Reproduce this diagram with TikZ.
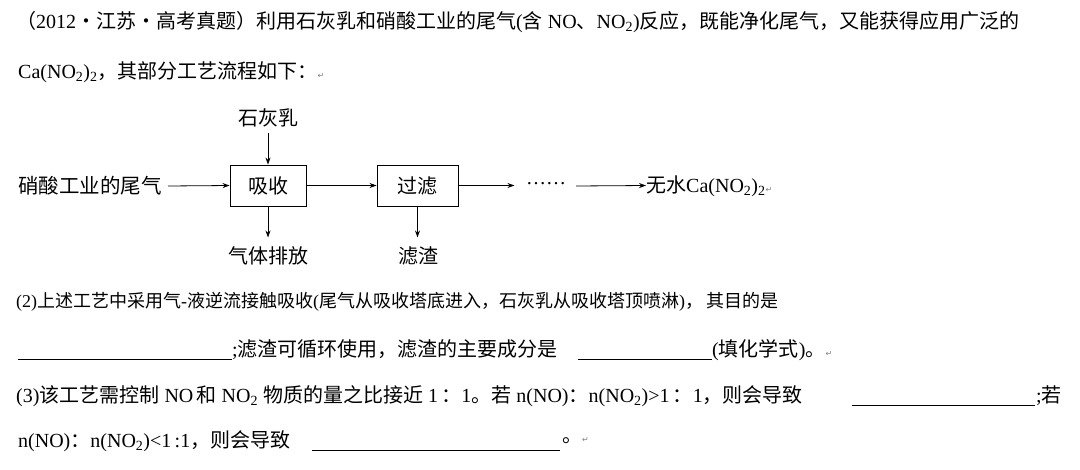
\documentclass[tikz,border=0pt]{standalone}
\usepackage{fontspec}
\setmainfont{Liberation Serif}
\newfontfamily\cjk{Noto Sans CJK SC}
\newfontfamily\symf{DejaVu Sans}
\newcommand\zh[1]{{\cjk #1}}
\newcommand\pmark{{\symf\color{gray}\fontsize{8}{8}\selectfont ↵}}
\usetikzlibrary{arrows.meta}
\begin{document}
\begin{tikzpicture}[x=1pt,y=-1pt,
  every node/.style={inner sep=0pt,font=\fontsize{20}{24}\selectfont},
  txt/.style={anchor=west},
  boxn/.style={draw,line width=0.9pt,minimum width=76pt,minimum height=41pt},
  arr/.style={-{Stealth[length=7pt,width=5pt]},line width=0.8pt}]
\useasboundingbox (0,0) rectangle (1080,469);
\node[txt] (l1) at (16,22) {\zh{（}2012\zh{·江苏·高考真题）利用石灰乳和硝酸工业的尾气}(\zh{含} NO\zh{、}NO\textsubscript{2})\zh{反应，既能净化尾气，又能获得应用广泛的}};
\node[txt] (l2) at (18,72) {Ca(NO\textsubscript{2})\textsubscript{2}\zh{，其部分工艺流程如下：}\pmark};
% diagram
\node (lime) at (268,118) {\zh{石灰乳}};
\node[boxn] (abs) at (268,185.5) {\zh{吸收}};
\node[boxn,minimum width=81pt] (filt) at (417.5,185.5) {\zh{过滤}};
\node[anchor=east,font=\fontsize{20.5}{24}\selectfont] (gas) at (162,186) {\zh{硝酸工业的尾气}};
\node (dots) at (546,184) {……};
\node[anchor=west] (prod) at (646,186) {\zh{无水}Ca(NO\textsubscript{2})\textsubscript{2}\pmark};
\node (vent) at (268,256) {\zh{气体排放}};
\node (res) at (418,256) {\zh{滤渣}};
\draw[arr] (lime.south) ++(0,6) -- (abs.north);
\draw[arr] (gas.east) ++(6,0) -- (abs.west);
\draw[arr] (abs.east) -- (filt.west);
\draw[arr] (filt.east) -- ++(56,0);
\draw[arr] (dots.east) ++(10,2) -- (prod.west |- abs.east);
\draw[arr] (abs.south) -- ++(0,31);
\draw[arr] (filt.south) -- ++(0,31);
% questions
\node[txt,font=\fontsize{18}{22}\selectfont] (q2) at (16,302) {(2)\zh{上述工艺中采用气}-\zh{液逆流接触吸收}(\zh{尾气从吸收塔底进入，石灰乳从吸收塔顶喷淋})\zh{，}\,\zh{其目的是}};
\coordinate (u1a) at (18,359); \coordinate (u1b) at (232,359);
\draw[line width=0.6pt] (u1a) -- (u1b);
\node[txt] (q2b) at (232,350) {;\zh{滤渣可循环使用，滤渣的主要成分是}};
\coordinate (u2a) at (578,359); \coordinate (u2b) at (712,359);
\draw[line width=0.6pt] (u2a) -- (u2b);
\node[txt] (q2c) at (712,350) {(\zh{填化学式})\zh{。}\pmark};
\node[txt] (q3) at (16,396) {(3)\zh{该工艺需控制} NO\,\zh{和} NO\textsubscript{2} \zh{物质的量之比接近} 1\,\zh{：}1\zh{。若} n(NO)\zh{：}n(NO\textsubscript{2})>1\,\zh{：}1\zh{，则会导致}};
\coordinate (u3a) at (852,405); \coordinate (u3b) at (1035,405);
\draw[line width=0.6pt] (u3a) -- (u3b);
\node[txt] (q3b) at (1036,396) {;\zh{若}};
\node[txt] (q4) at (18,441) {n(NO)\zh{：}n(NO\textsubscript{2})<1\,:1\zh{，则会导致}};
\coordinate (u4a) at (312,450); \coordinate (u4b) at (560,450);
\draw[line width=0.6pt] (u4a) -- (u4b);
\node[txt] (q4b) at (562,441) {\zh{。}\pmark};
\end{tikzpicture}
\end{document}
